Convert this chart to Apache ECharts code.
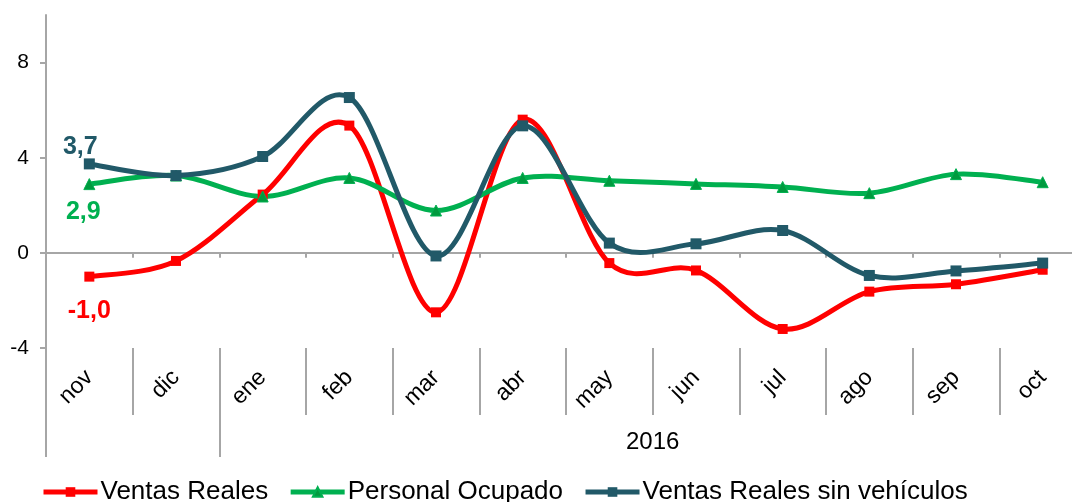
<!DOCTYPE html>
<html>
<head>
<meta charset="utf-8">
<script src="https://cdn.jsdelivr.net/npm/echarts@6/dist/echarts.min.js"></script>
<style>
html,body{margin:0;padding:0;background:#fff;}
#c{width:1072px;height:502px;}
</style>
</head>
<body>
<div id="c"></div>
<script>
const months = ['nov','dic','ene','feb','mar','abr','may','jun','jul','ago','sep','oct'];
const yearLabel = '2016';
const ventasReales = [-1.0, -0.34, 2.45, 5.35, -2.5, 5.6, -0.43, -0.74, -3.2, -1.63, -1.32, -0.71];
const personalOcupado = [2.89, 3.25, 2.37, 3.15, 1.78, 3.15, 3.03, 2.9, 2.77, 2.51, 3.31, 2.97];
const ventasSinVehiculos = [3.74, 3.25, 4.05, 6.53, -0.13, 5.34, 0.41, 0.38, 0.94, -0.95, -0.76, -0.43];
const yTicks = [-4, 0, 4, 8];

const FONT = 'Arial, "Liberation Sans", sans-serif';
const AXIS_COLOR = '#A6A6A6';
const RED = '#FF0000', GREEN = '#00B050', TEAL = '#215968';
const fmt = v => v.toFixed(1).replace('.', ',');

function withFirstLabel(values, color, position, offset) {
  return values.map((v, i) => i === 0 ? {
    value: v,
    label: {
      show: true, position: position, offset: offset,
      formatter: p => fmt(p.value),
      color: color, fontSize: 25, fontWeight: 'bold', fontFamily: FONT
    }
  } : v);
}

// Smooth curve (Catmull-Rom style, like spreadsheet smoothing) drawn through the axis scales
function curveSeries(values, color, z) {
  const n = values.length;
  return {
    type: 'custom', name: '_curve_' + color, xAxisIndex: 0, yAxisIndex: 0, z: z,
    silent: true, legendHoverLink: false,
    data: values.map((v, i) => [i, v]),
    encode: {x: 0, y: 1},
    renderItem: function (params, api) {
      const i = params.dataIndex;
      if (i >= n - 1) return null;
      const P = k => { k = Math.max(0, Math.min(n - 1, k)); return api.coord([k, values[k]]); };
      const p0 = P(i - 1), p1 = P(i), p2 = P(i + 1), p3 = P(i + 2);
      return {
        type: 'bezierCurve',
        shape: {
          x1: p1[0], y1: p1[1], x2: p2[0], y2: p2[1],
          cpx1: p1[0] + (p2[0] - p0[0]) / 6, cpy1: p1[1] + (p2[1] - p0[1]) / 6,
          cpx2: p2[0] - (p3[0] - p1[0]) / 6, cpy2: p2[1] - (p3[1] - p1[1]) / 6
        },
        style: {stroke: color, lineWidth: 5, fill: null, lineCap: 'round'}
      };
    }
  };
}

function pointSeries(name, values, color, symbol, size, label) {
  return {
    name: name, type: 'line', xAxisIndex: 0, yAxisIndex: 0, z: 5,
    data: withFirstLabel(values, color, label[0], label[1]),
    symbol: symbol, symbolSize: size, showSymbol: true,
    lineStyle: {color: color, width: 5, opacity: 0},
    itemStyle: {color: symbol === 'triangle' ? '#009A3E' : color, borderColor: color, borderWidth: symbol === 'triangle' ? 1 : 0}
  };
}

const chart = echarts.init(document.getElementById('c'), null, {renderer: 'canvas'});
chart.setOption({
  animation: false,
  backgroundColor: '#fff',
  grid: {left: 46, top: 15, width: 1040, height: 333, containLabel: false, outerBoundsMode: 'none'},
  xAxis: [
    {
      type: 'category', data: months, boundaryGap: true,
      axisLine: {onZero: true, lineStyle: {color: AXIS_COLOR, width: 2}},
      axisTick: {show: true, length: 5, lineStyle: {color: AXIS_COLOR, width: 2}},
      axisLabel: {show: false}
    },
    {
      type: 'category', data: months, boundaryGap: true, position: 'bottom',
      axisLine: {show: false, onZero: false},
      axisTick: {show: true, length: 67, lineStyle: {color: AXIS_COLOR, width: 2}},
      axisLabel: {show: true, rotate: 45, margin: 26, color: '#000', fontSize: 23, fontFamily: FONT}
    },
    {
      type: 'value', min: 0, max: 12, position: 'bottom',
      axisLine: {show: false, onZero: false},
      splitLine: {show: false},
      axisTick: {show: true, length: 109, customValues: [0, 2], lineStyle: {color: AXIS_COLOR, width: 2}},
      axisLabel: {show: true, customValues: [7], formatter: () => yearLabel, margin: 82, color: '#000', fontSize: 24, fontFamily: FONT}
    }
  ],
  yAxis: {
    type: 'value', min: -4, max: 10, interval: 4,
    axisLine: {show: true, lineStyle: {color: AXIS_COLOR, width: 2}},
    axisTick: {show: true, length: 6, customValues: yTicks, lineStyle: {color: AXIS_COLOR, width: 2}},
    axisLabel: {customValues: yTicks, margin: 17, color: '#000', fontSize: 21, fontFamily: FONT},
    splitLine: {show: false}
  },
  legend: {
    left: 36, top: 474, itemGap: 20, itemWidth: 54, itemHeight: 12,
    lineStyle: {opacity: 1, width: 5},
    textStyle: {fontSize: 26, color: '#000', fontFamily: FONT, padding: [0, 0, 0, -2]},
    data: ['Ventas Reales', 'Personal Ocupado', 'Ventas Reales sin vehículos']
  },
  series: [
    curveSeries(ventasReales, RED, 2),
    curveSeries(personalOcupado, GREEN, 3),
    curveSeries(ventasSinVehiculos, TEAL, 4),
    pointSeries('Ventas Reales', ventasReales, RED, 'rect', 10, ['bottom', [0, 12]]),
    pointSeries('Personal Ocupado', personalOcupado, GREEN, 'triangle', 11, ['bottom', [-6, 4]]),
    pointSeries('Ventas Reales sin vehículos', ventasSinVehiculos, TEAL, 'rect', 11, ['top', [-9, 6]])
  ]
});
</script>
</body>
</html>
